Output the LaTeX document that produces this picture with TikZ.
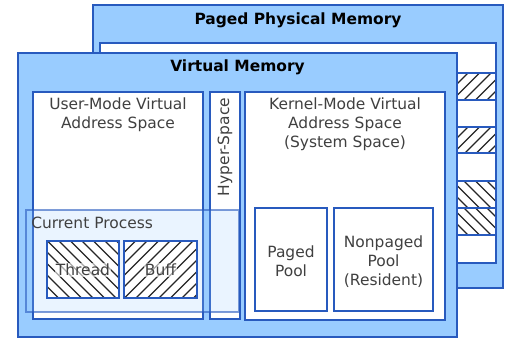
\documentclass[tikz,border=0pt]{standalone}
\usepackage{fontspec}
\setmainfont{DejaVu Sans}
\definecolor{memfill}{RGB}{153,204,255}
\definecolor{memline}{RGB}{40,90,190}
\definecolor{memtext}{RGB}{64,64,64}
\newcommand{\hatchfwd}[4]{%
  \fill[white] (#1,#2) rectangle (#3,#4);
  \begin{scope}
  \clip (#1,#2) rectangle (#3,#4);
  \foreach \s in {0,11.5,...,450} \draw[hatch] ({#1-(#4-#2)+\s},#4) -- ++({#4-#2},{-(#4-#2)});
  \end{scope}
  \draw[boxline] (#1,#2) rectangle (#3,#4);}
\newcommand{\hatchbwd}[4]{%
  \fill[white] (#1,#2) rectangle (#3,#4);
  \begin{scope}
  \clip (#1,#2) rectangle (#3,#4);
  \foreach \s in {0,11.5,...,450} \draw[hatch] ({#1-(#4-#2)+\s},#2) -- ++({#4-#2},{#4-#2});
  \end{scope}
  \draw[boxline] (#1,#2) rectangle (#3,#4);}
\begin{document}
\begin{tikzpicture}[x=0.75pt,y=-0.75pt,
  panel/.style={draw=memline,line width=1.2pt,fill=memfill},
  boxline/.style={draw=memline,line width=0.8pt},
  box/.style={boxline,fill=white},
  hatch/.style={draw=black!85,line width=1pt},
  lbl/.style={text=memtext,font=\fontsize{11.6}{14.3}\selectfont,align=center},
  ttl/.style={font=\fontsize{11.6}{14}\selectfont\bfseries}]
\useasboundingbox (0,0) rectangle (508,338);
\draw[panel] (93,5) rectangle (503,288);
\draw[box] (100,43) rectangle (496,263);
\hatchfwd{100}{73}{496}{100}
\hatchfwd{100}{127}{496}{153}
\hatchbwd{100}{181}{496}{208}
\hatchbwd{100}{208}{496}{235}
\node[ttl] (phys) at (298,20) {Paged Physical Memory};
\draw[panel] (18,53) rectangle (457,337);
\node[ttl] (virt) at (237.5,67) {Virtual Memory};
\draw[box] (33,92) rectangle (203,319);
\draw[box] (210,92) rectangle (240,319);
\draw[box] (245,92) rectangle (445,320);
\node[lbl] (user) at (118,114.5) {User-Mode Virtual\\Address Space};
\node[lbl,rotate=90] (hyper) at (225,147) {Hyper-Space};
\node[lbl] (kernel) at (345,124) {Kernel-Mode Virtual\\Address Space\\(System Space)};
\draw[box] (255,208) rectangle (327,311);
\draw[box] (334,208) rectangle (433,311);
\node[lbl] (paged) at (291,261.5) {Paged\\Pool};
\node[lbl] (nonpaged) at (383.5,262) {Nonpaged\\Pool\\(Resident)};
\draw[draw=memline,draw opacity=0.6,line width=0.8pt,fill=memfill,fill opacity=0.2] (26,210) rectangle (239,312);
\node[lbl,anchor=west,inner sep=0pt] (proc) at (31,223) {Current Process};
\hatchbwd{47}{241}{119}{298}
\hatchfwd{124}{241}{197}{298}
\node[lbl,fill=white,fill opacity=0.6,text opacity=1,inner sep=0.5pt] (thread) at (83,270) {Thread};
\node[lbl,fill=white,fill opacity=0.6,text opacity=1,inner sep=0.5pt] (buff) at (160.5,270) {Buff};
\end{tikzpicture}
\end{document}
